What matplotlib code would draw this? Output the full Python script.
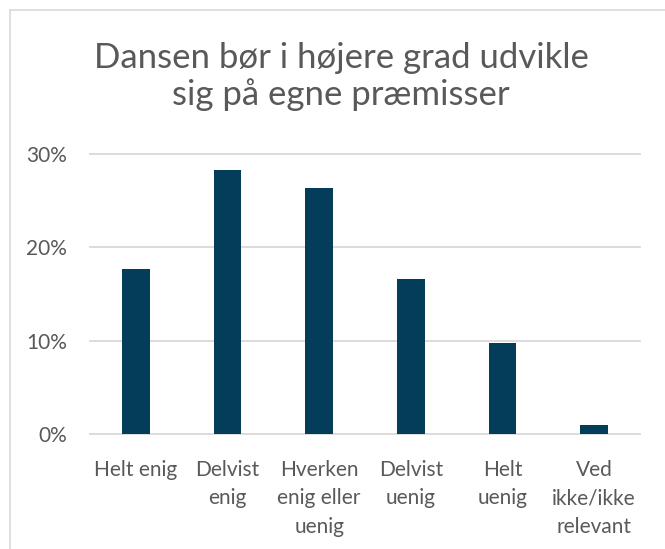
import numpy as np
import matplotlib.pyplot as plt
from matplotlib.lines import Line2D

categories = ['Helt enig', 'Delvist\nenig', 'Hverken\nenig eller\nuenig',
              'Delvist\nuenig', 'Helt\nuenig', 'Ved\nikke/ikke\nrelevant']
shares = [0.1765, 0.2833, 0.264, 0.1657, 0.0973, 0.0096]
yticks = [0.0, 0.1, 0.2, 0.3]
title_lines = ['Dansen bør i højere grad udvikle', 'sig på egne præmisser']

W, H = 665, 549
bar_color = '#033D5A'
text_color = '#595959'
grid_color = '#D9D9D9'

plt.rcParams['font.family'] = ['Lato', 'DejaVu Sans']

fig = plt.figure(figsize=(W / 100, H / 100), dpi=100)

# Frame round the chart area (left and top edges visible)
fig.add_artist(Line2D([10 / W, 10 / W], [0, 1 - 10 / H], transform=fig.transFigure,
                      color=grid_color, lw=1.2))
fig.add_artist(Line2D([10 / W, 1], [1 - 10 / H, 1 - 10 / H], transform=fig.transFigure,
                      color=grid_color, lw=1.2))

# Plot area in pixels: x 90..640, y 154 (30%) .. 434 (0%)
x0, x1, ytop, ybot = 90, 640, 154, 434
ax = fig.add_axes([x0 / W, 1 - ybot / H, (x1 - x0) / W, (ybot - ytop) / H])
ax.set_xlim(-0.5, len(categories) - 0.5)
ax.set_ylim(0, 0.3)

for t in yticks:
    ax.axhline(t, color=grid_color, lw=1.3, zorder=0, clip_on=False)

x = np.arange(len(categories))
ax.bar(x, shares, width=0.305, color=bar_color, zorder=2)

for s in ax.spines.values():
    s.set_visible(False)
ax.set_yticks(yticks)
ax.set_yticklabels([f'{int(round(t * 100))}%' for t in yticks])
ax.tick_params(axis='y', length=0, pad=16.5, labelsize=15, labelcolor=text_color)
ax.set_xticks(x)
ax.set_xticklabels(categories, linespacing=1.55, va='top')
ax.tick_params(axis='x', length=0, pad=18.5, labelsize=15, labelcolor=text_color)

# Two-line title, each line placed on its own baseline
for txt, yb in zip(title_lines, [68, 105]):
    fig.text(341 / W, 1 - yb / H, txt, ha='center', va='baseline', fontsize=25,
             color=text_color)

fig.savefig('out.png', dpi=100)
